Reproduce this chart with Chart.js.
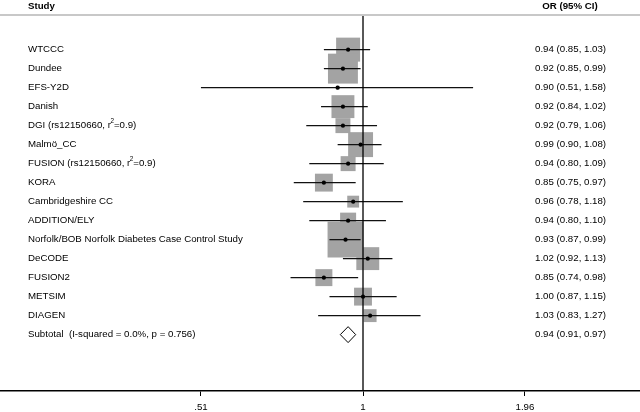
<!DOCTYPE html>
<html><head><meta charset="utf-8">
<script src="https://cdn.jsdelivr.net/npm/chart.js@4"></script>
<style>html,body{margin:0;padding:0;background:#fff}canvas{display:block}</style>
</head><body>
<canvas id="c" width="640" height="412"></canvas>
<script>
// ---- data ----
const studies = ['WTCCC','Dundee','EFS-Y2D','Danish','DGI (rs12150660, r²=0.9)','Malmö_CC',
  'FUSION (rs12150660, r²=0.9)','KORA','Cambridgeshire CC','ADDITION/ELY',
  'Norfolk/BOB Norfolk Diabetes Case Control Study','DeCODE','FUSION2','METSIM','DIAGEN'];
const orValues = [0.94,0.92,0.90,0.92,0.92,0.99,0.94,0.85,0.96,0.94,0.93,1.02,0.85,1.00,1.03];
const ciLower  = [0.85,0.85,0.51,0.84,0.79,0.90,0.80,0.75,0.78,0.80,0.87,0.92,0.74,0.87,0.83];
const ciUpper  = [1.03,0.99,1.58,1.02,1.06,1.08,1.09,0.97,1.18,1.10,0.99,1.13,0.98,1.15,1.27];
const weights  = [9.0,14.0,0.2,8.2,3.5,9.7,3.5,5.0,2.2,4.0,20.2,8.2,4.5,5.0,2.6];
const subtotalLabel = 'Subtotal  (I-squared = 0.0%, p = 0.756)';
const subtotalOR = [0.94, 0.91, 0.97]; // estimate, lower, upper
const xTicks = [0.51, 1, 1.96];
const xTickLabels = ['.51', '1', '1.96'];

// ---- style ----
const FONT = '"Liberation Sans", Arial, Helvetica, sans-serif';
const FS = 9.7;
const BOX_K = 8;
const Y_MIN = -1.77, Y_MAX = 17.967;
const fmt = v => v.toFixed(2);

const nRows = studies.length;
const subRow = nRows;

const ciSets = studies.map((s, i) => ({
  data: [{x: ciLower[i], y: i}, {x: ciUpper[i], y: i}],
  showLine: true, borderColor: '#111', borderWidth: 1.3, pointRadius: 0, order: 2
}));

const datasets = [
  { // reference line at OR = 1
    data: [{x: 1, y: Y_MIN}, {x: 1, y: Y_MAX}],
    showLine: true, borderColor: '#000', borderWidth: 1.3, pointRadius: 0, order: 0
  },
  { // subtotal diamond
    data: [
      {x: subtotalOR[1], y: subRow}, {x: subtotalOR[0], y: subRow - 0.42},
      {x: subtotalOR[2], y: subRow}, {x: subtotalOR[0], y: subRow + 0.42},
      {x: subtotalOR[1], y: subRow}
    ],
    showLine: true, borderColor: '#000', borderWidth: 1, pointRadius: 0, order: 0
  },
  { // point estimates
    data: orValues.map((v, i) => ({x: v, y: i})),
    pointStyle: 'circle', pointRadius: 2.1, backgroundColor: '#000', borderWidth: 0, order: 1
  },
  ...ciSets,
  { // weight boxes
    data: orValues.map((v, i) => ({x: v, y: i})),
    pointStyle: 'rect',
    pointRadius: weights.map(w => BOX_K * Math.sqrt(w) / Math.SQRT2),
    backgroundColor: '#a3a3a3', borderWidth: 0, order: 3
  }
];

function drawLabel(ctx, text, x, y) {
  const parts = text.split('²');
  let cx = x;
  parts.forEach((p, k) => {
    ctx.font = FS + 'px ' + FONT;
    ctx.fillText(p, cx, y);
    cx += ctx.measureText(p).width;
    if (k < parts.length - 1) {
      ctx.font = (FS * 0.65) + 'px ' + FONT;
      ctx.fillText('2', cx - 0.5, y - 4);
      cx += ctx.measureText('2').width - 0.5;
    }
  });
}

const textPlugin = {
  id: 'forestText',
  afterDraw(chart) {
    const ctx = chart.ctx;
    const ys = chart.scales.y;
    ctx.save();
    ctx.fillStyle = '#c8c8c8';
    ctx.fillRect(0, 14, 640, 2);
    ctx.fillStyle = '#000';
    ctx.textBaseline = 'middle';
    ctx.font = 'bold ' + FS + 'px ' + FONT;
    ctx.textAlign = 'left';
    ctx.fillText('Study', 28, 6);
    ctx.textAlign = 'center';
    ctx.fillText('OR (95% CI)', 570, 6);
    ctx.textAlign = 'left';
    studies.forEach((s, i) => {
      const y = ys.getPixelForValue(i);
      drawLabel(ctx, s, 28, y);
      ctx.font = FS + 'px ' + FONT;
      ctx.fillText(fmt(orValues[i]) + ' (' + fmt(ciLower[i]) + ', ' + fmt(ciUpper[i]) + ')', 535, y);
    });
    const y = ys.getPixelForValue(subRow);
    ctx.font = FS + 'px ' + FONT;
    ctx.fillText(subtotalLabel, 28, y);
    ctx.fillText(fmt(subtotalOR[0]) + ' (' + fmt(subtotalOR[1]) + ', ' + fmt(subtotalOR[2]) + ')', 535, y);
    ctx.restore();
  }
};

new Chart(document.getElementById('c'), {
  type: 'scatter',
  data: { datasets },
  options: {
    responsive: false, animation: false, devicePixelRatio: 1, events: [],
    layout: { autoPadding: false, padding: { top: 16, bottom: 0, left: 0, right: 0 } },
    plugins: { legend: { display: false }, tooltip: { enabled: false } },
    scales: {
      x: {
        type: 'logarithmic', min: 0.2213, max: 3.161,
        afterBuildTicks: s => { s.ticks = xTicks.map(v => ({ value: v })); },
        afterFit: s => { s.height = 21; },
        ticks: {
          callback: (v, i) => xTickLabels[i],
          font: { family: FONT, size: FS }, color: '#000', padding: 6,
          maxRotation: 0, autoSkip: false
        },
        grid: { display: true, drawOnChartArea: false, drawTicks: true, tickLength: 5, color: '#000', lineWidth: 1 },
        border: { display: true, color: '#000', width: 1.5 }
      },
      y: { type: 'linear', min: Y_MIN, max: Y_MAX, reverse: true, display: false }
    }
  },
  plugins: [textPlugin]
});
</script>
</body></html>
